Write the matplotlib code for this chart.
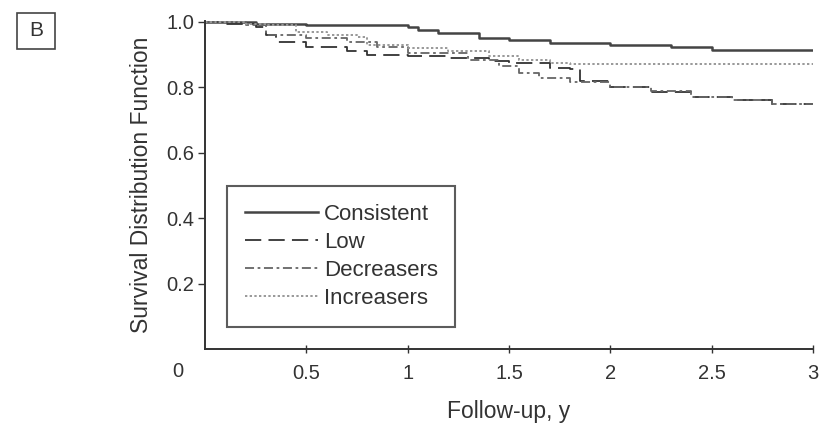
import matplotlib
matplotlib.use("Agg")
import matplotlib.pyplot as plt
from matplotlib.patches import Rectangle

plt.rcParams['font.family'] = ['Liberation Sans', 'DejaVu Sans']

# Data
consistent_t = [0, 0.25, 0.5, 1.0, 1.05, 1.15, 1.35, 1.5, 1.7, 2.0, 2.3, 2.5, 3.0]
consistent_s = [1.0, 0.995, 0.99, 0.985, 0.975, 0.965, 0.95, 0.945, 0.935, 0.93, 0.925, 0.915, 0.915]

low_t = [0, 0.1, 0.25, 0.3, 0.35, 0.5, 0.7, 0.8, 1.0, 1.2, 1.4, 1.5, 1.7, 1.8, 1.85, 2.0, 2.2, 2.4, 2.6, 2.8, 3.0]
low_s = [1.0, 0.995, 0.985, 0.96, 0.94, 0.925, 0.91, 0.9, 0.895, 0.89, 0.88, 0.875, 0.86, 0.855, 0.82, 0.8, 0.785, 0.77, 0.76, 0.75, 0.745]

decr_t = [0, 0.2, 0.3, 0.5, 0.7, 0.85, 1.0, 1.3, 1.45, 1.55, 1.65, 1.8, 2.0, 2.2, 2.4, 2.6, 2.8, 3.0]
decr_s = [1.0, 0.99, 0.96, 0.95, 0.94, 0.925, 0.905, 0.885, 0.865, 0.845, 0.83, 0.815, 0.8, 0.79, 0.77, 0.76, 0.75, 0.745]

incr_t = [0, 0.2, 0.3, 0.45, 0.6, 0.75, 0.8, 1.0, 1.2, 1.4, 1.55, 1.7, 1.8, 3.0]
incr_s = [1.0, 0.995, 0.99, 0.97, 0.96, 0.955, 0.93, 0.92, 0.91, 0.895, 0.885, 0.875, 0.87, 0.87]

series_names = ["Consistent", "Low", "Decreasers", "Increasers"]
x_ticks = [0.5, 1, 1.5, 2, 2.5, 3]
x_ticklabels = ["0.5", "1", "1.5", "2", "2.5", "3"]
y_ticks = [0.2, 0.4, 0.6, 0.8, 1.0]
y_ticklabels = ["0.2", "0.4", "0.6", "0.8", "1.0"]

W, H = 837, 424
fig = plt.figure(figsize=(W / 100, H / 100), dpi=100)
ax = fig.add_axes([205 / W, 1 - 349 / H, (813 - 205) / W, (349 - 21) / H])

ax.step(consistent_t, consistent_s, where='post', color='#444444', lw=1.8, ls='-', label=series_names[0])
ax.step(low_t, low_s, where='post', color='#333333', lw=1.3, ls=(0, (9, 4)), label=series_names[1])
ax.step(decr_t, decr_s, where='post', color='#666666', lw=1.3, ls=(0, (5, 2, 1.5, 2)), label=series_names[2])
ax.step(incr_t, incr_s, where='post', color='#999999', lw=1.4, ls=(0, (1.2, 1.2)), label=series_names[3])

ax.set_xlim(0, 3)
ax.set_ylim(0, 1.003)
for s in ['top', 'right']:
    ax.spines[s].set_visible(False)
for s in ['left', 'bottom']:
    ax.spines[s].set_color('#333333')
    ax.spines[s].set_linewidth(1.4)

ax.set_xticks(x_ticks)
ax.set_xticklabels(x_ticklabels, fontsize=14.5, color='#333333')
ax.set_yticks(y_ticks)
ax.set_yticklabels(y_ticklabels, fontsize=14.5, color='#333333')
ax.tick_params(axis='x', direction='inout', length=6, width=1, colors='#333333', pad=8)
ax.tick_params(axis='y', direction='out', length=5, width=1, colors='#333333', pad=3)
ax.text(-0.035, -0.07, "0", transform=ax.transAxes, fontsize=14.5, color='#333333',
        ha='right', va='center')

ax.set_xlabel("Follow-up, y", fontsize=16.5, color='#333333', labelpad=12)
ax.set_ylabel("Survival Distribution Function", fontsize=16.5, color='#333333', labelpad=9)

leg = ax.legend(loc='lower left', bbox_to_anchor=(22 / 608, 22 / 328, 228 / 608, 143 / 328),
                mode='expand', fontsize=16, frameon=True, fancybox=False, handlelength=3.3,
                handletextpad=0.25, borderpad=0.8, labelspacing=0.32, borderaxespad=0)
leg.get_frame().set_edgecolor('#333333')
leg.get_frame().set_linewidth(1.5)
for t in leg.get_texts():
    t.set_color('#333333')

# Panel label "B"
fig.patches.append(Rectangle((17 / W, 1 - 49 / H), 38 / W, 36 / H, transform=fig.transFigure,
                             fill=False, edgecolor='#444444', lw=1.2))
fig.text(36 / W, 1 - 31 / H, "B", fontsize=15, color='#333333', ha='center', va='center')

fig.savefig("out.png", dpi=100)
